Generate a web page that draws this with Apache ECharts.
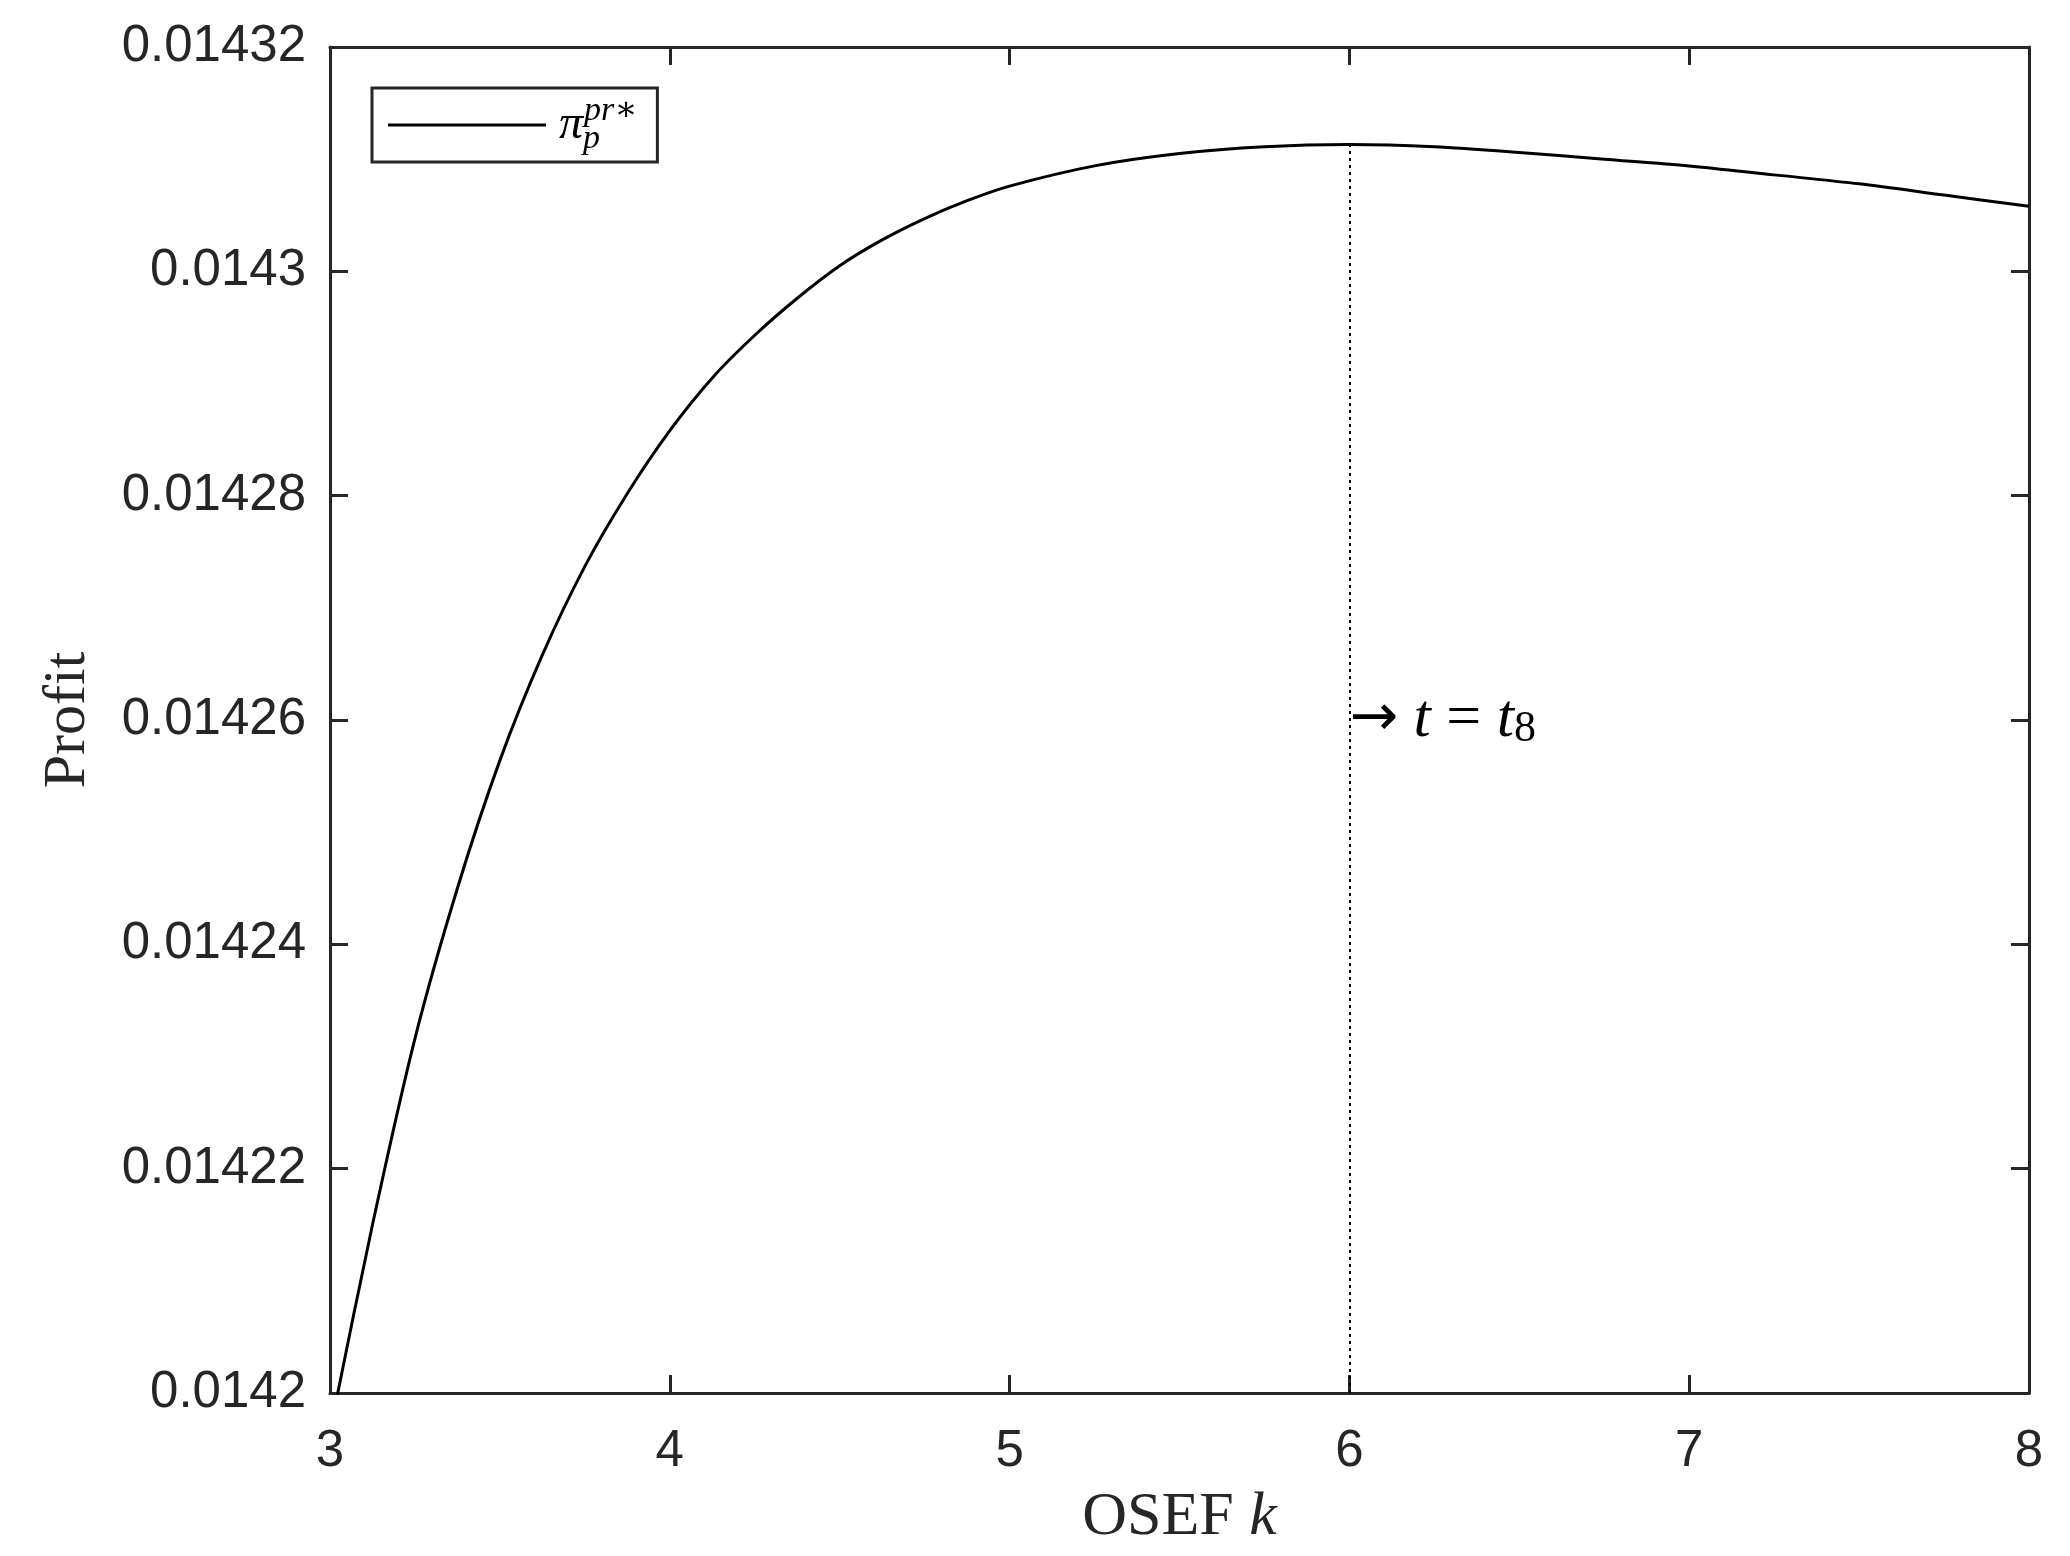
<!DOCTYPE html>
<html>
<head>
<meta charset="utf-8">
<script src="https://cdn.jsdelivr.net/npm/echarts@6/dist/echarts.min.js"></script>
<style>
html,body{margin:0;padding:0;background:#fff;}
#chart{width:2070px;height:1556px;}
</style>
</head>
<body>
<div id="chart"></div>
<script>
// OSEF k values
const kValues = [3, 3.125, 3.25, 3.375, 3.5, 3.625, 3.75, 3.875, 4, 4.125, 4.25, 4.375, 4.5, 4.625, 4.75, 4.875, 5, 5.25, 5.5, 5.75, 6, 6.25, 6.5, 6.75, 7, 7.25, 7.5, 7.75, 8];
// Profit values pi_p^{pr*}
const profitValues = [0.0141966, 0.0142150, 0.0142316, 0.0142450, 0.0142564, 0.0142658, 0.0142737, 0.0142802, 0.0142858, 0.0142905, 0.0142943, 0.0142976, 0.0143005, 0.0143028, 0.0143047, 0.0143063, 0.0143076, 0.0143094, 0.0143105, 0.0143111, 0.0143113, 0.0143111, 0.0143106, 0.0143100, 0.0143094, 0.0143086, 0.0143078, 0.0143068, 0.0143058];
const xTicks = [3, 4, 5, 6, 7, 8];
const yTicks = [0.0142, 0.01422, 0.01424, 0.01426, 0.01428, 0.0143, 0.01432];
const markerK = 6;
const annotationY = 0.01426;

const seriesName = 'profit';
const axisColor = '#262626';
const sans = '"Liberation Sans", Arial, Helvetica, sans-serif';
const serif = '"Liberation Serif", "DejaVu Serif", "Times New Roman", serif';

const data = kValues.map((k, i) => [k, profitValues[i]]);
const peakVal = Math.max(...profitValues);

const chart = echarts.init(document.getElementById('chart'), null, {renderer: 'canvas'});

const axisCommon = {
  axisLine: {show: true, onZero: false, lineStyle: {color: axisColor, width: 3}},
  axisTick: {show: true, inside: true, length: 18, lineStyle: {color: axisColor, width: 3}},
  splitLine: {show: false}
};

const yFmt = v => parseFloat(v.toFixed(6)).toString();

chart.setOption({
  animation: false,
  backgroundColor: '#fff',
  grid: {left: 330, right: 41, top: 47, bottom: 163, containLabel: false},
  xAxis: [
    Object.assign({
      type: 'value', min: xTicks[0], max: xTicks[xTicks.length - 1], interval: 1,
      position: 'bottom',
      name: '{n|OSEF }{k|k}', nameLocation: 'middle', nameGap: 94,
      nameTextStyle: {rich: {
        n: {fontFamily: serif, fontSize: 62, color: axisColor},
        k: {fontFamily: serif, fontSize: 62, fontStyle: 'italic', color: axisColor}
      }},
      axisLabel: {color: axisColor, fontFamily: sans, fontSize: 51, margin: 33}
    }, axisCommon),
    Object.assign({
      type: 'value', min: xTicks[0], max: xTicks[xTicks.length - 1], interval: 1,
      position: 'top', axisLabel: {show: false}
    }, axisCommon)
  ],
  yAxis: [
    Object.assign({
      type: 'value', min: yTicks[0], max: yTicks[yTicks.length - 1], interval: 0.00002,
      position: 'left',
      name: 'Profit', nameLocation: 'middle', nameGap: 232, nameRotate: 90,
      nameTextStyle: {fontFamily: serif, fontSize: 60, color: axisColor},
      axisLabel: {color: axisColor, fontFamily: sans, fontSize: 51, margin: 24, formatter: yFmt}
    }, axisCommon),
    Object.assign({
      type: 'value', min: yTicks[0], max: yTicks[yTicks.length - 1], interval: 0.00002,
      position: 'right', axisLabel: {show: false}
    }, axisCommon)
  ],
  legend: {
    show: true,
    left: 372, top: 88,
    orient: 'vertical',
    backgroundColor: '#fff',
    borderColor: axisColor, borderWidth: 3, borderRadius: 0,
    padding: [6, 20, 6, 16],
    icon: 'rect',
    itemWidth: 158, itemHeight: 3, itemGap: 0,
    itemStyle: {color: '#000', borderWidth: 0},
    data: [{name: seriesName}],
    formatter: () => '{pi|π}{sub|p}{sup|pr∗}',
    textStyle: {
      color: '#000',
      padding: [0, 0, 0, 8],
      rich: {
        pi: {fontFamily: serif, fontStyle: 'italic', fontSize: 48, lineHeight: 62, verticalAlign: 'middle', color: '#000'},
        sub: {fontFamily: serif, fontStyle: 'italic', fontSize: 34, width: 1, verticalAlign: 'bottom', lineHeight: 62, color: '#000'},
        sup: {fontFamily: serif, fontStyle: 'italic', fontSize: 34, verticalAlign: 'top', lineHeight: 62, color: '#000'}
      }
    }
  },
  series: [{
    name: seriesName,
    type: 'line',
    data: data,
    smooth: 0.3,
    symbol: 'none',
    clip: true,
    lineStyle: {color: '#000', width: 3},
    itemStyle: {color: '#000'},
    markLine: {
      silent: true,
      symbol: ['none', 'none'],
      label: {show: false},
      lineStyle: {color: '#000', width: 2, type: [3, 4]},
      data: [[{coord: [markerK, yTicks[0]]}, {coord: [markerK, peakVal]}]]
    },
    markPoint: {
      silent: true,
      symbol: 'circle', symbolSize: 0,
      data: [{coord: [markerK, annotationY]}],
      label: {
        show: true, position: 'right', distance: 0,
        formatter: '{r|→}{i| t}{a| = }{i|t}{s|8}',
        rich: {
          r: {fontFamily: '"DejaVu Sans", sans-serif', fontSize: 58, color: '#000'},
          a: {fontFamily: serif, fontSize: 62, color: '#000'},
          i: {fontFamily: serif, fontStyle: 'italic', fontSize: 62, color: '#000'},
          s: {fontFamily: serif, fontSize: 44, color: '#000', verticalAlign: 'bottom', padding: [18, 0, 0, 0]}
        }
      }
    }
  }]
});
</script>
</body>
</html>
